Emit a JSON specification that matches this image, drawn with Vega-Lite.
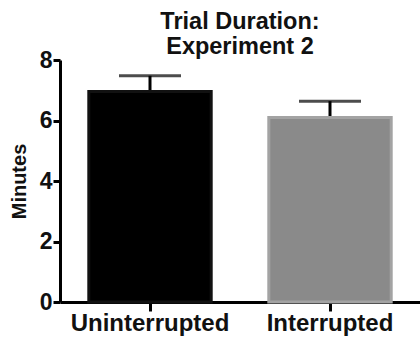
{
  "$schema": "https://vega.github.io/schema/vega-lite/v6.json",
  "autosize": "none",
  "width": 360,
  "height": 242,
  "padding": {"left": 60, "top": 60, "right": 0, "bottom": 39},
  "background": "white",
  "title": {
    "text": ["Trial Duration:", "Experiment 2"],
    "font": "Liberation Sans",
    "fontSize": 23.5,
    "fontWeight": "bold",
    "color": "#111111",
    "lineHeight": 25,
    "anchor": "middle",
    "offset": -9
  },
  "config": {
    "view": {"stroke": null},
    "axis": {
      "grid": false,
      "domainColor": "black",
      "tickColor": "black",
      "labelColor": "#111111",
      "titleColor": "#111111",
      "labelFont": "Liberation Sans",
      "labelFontWeight": "bold",
      "titleFont": "Liberation Sans",
      "titleFontWeight": "bold",
      "domainWidth": 3,
      "tickWidth": 3
    },
    "axisY": {
      "labelFontSize": 23,
      "labelPadding": 1,
      "titleFontSize": 20,
      "titlePadding": 10,
      "tickSize": 7
    },
    "axisX": {
      "labelFontSize": 24,
      "labelPadding": 0,
      "tickSize": 9
    }
  },
  "data": {
    "values": [
      {"condition": "Uninterrupted", "minutes": 6.96, "upper": 7.48},
      {"condition": "Interrupted", "minutes": 6.1, "upper": 6.64}
    ]
  },
  "encoding": {
    "x": {
      "field": "condition",
      "type": "nominal",
      "sort": ["Uninterrupted", "Interrupted"],
      "scale": {"paddingInner": 0.32, "paddingOuter": 0.16},
      "axis": {"title": null, "labelAngle": 0}
    }
  },
  "layer": [
    {
      "mark": {"type": "rule", "strokeWidth": 3, "color": "black"},
      "encoding": {
        "y": {
          "field": "minutes",
          "type": "quantitative",
          "scale": {"domain": [0, 8], "nice": false},
          "axis": {"title": "Minutes", "values": [0, 2, 4, 6, 8], "titleFontSize": 20}
        },
        "y2": {"field": "upper"}
      }
    },
    {
      "mark": {"type": "tick", "orient": "horizontal", "size": 62, "thickness": 3, "color": "black"},
      "encoding": {
        "y": {"field": "upper", "type": "quantitative"}
      }
    },
    {
      "mark": {"type": "bar", "strokeWidth": 3},
      "encoding": {
        "y": {"field": "minutes", "type": "quantitative"},
        "fill": {
          "field": "condition",
          "type": "nominal",
          "scale": {"domain": ["Uninterrupted", "Interrupted"], "range": ["#000000", "#8a8a8a"]},
          "legend": null
        },
        "stroke": {
          "field": "condition",
          "type": "nominal",
          "scale": {"domain": ["Uninterrupted", "Interrupted"], "range": ["#111111", "#a3a3a3"]},
          "legend": null
        }
      }
    }
  ]
}
